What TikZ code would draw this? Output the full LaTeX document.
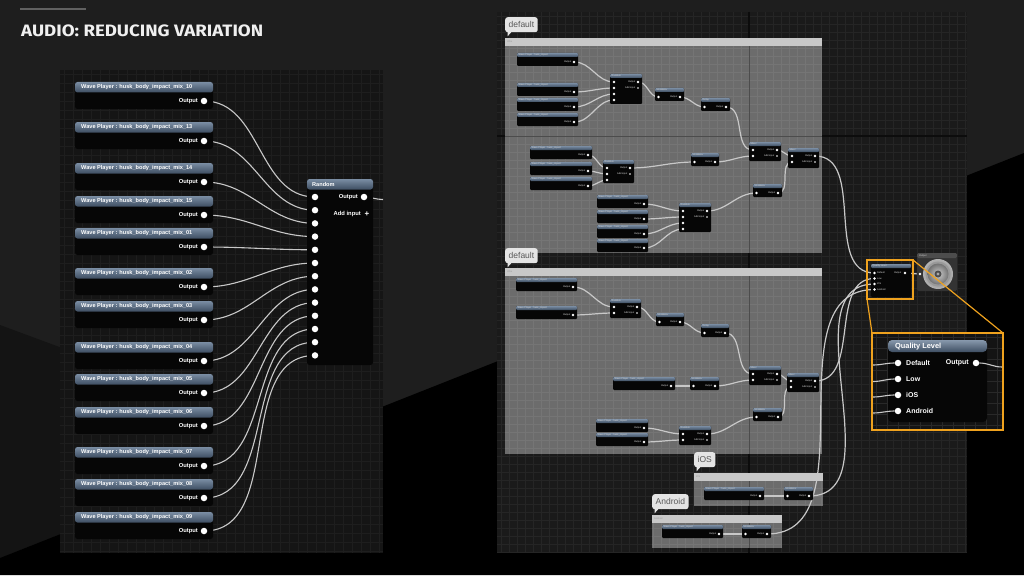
\documentclass[tikz,border=0pt]{standalone}
\usepackage{fontspec}
\setmainfont{Liberation Sans}
\newfontfamily\titlefont{Fira Sans}
\usetikzlibrary{calc}
\pgfdeclarelayer{back}
\pgfdeclarelayer{wirel}
\pgfsetlayers{back,wirel,main}
\definecolor{bgA}{HTML}{1E1E1E}
\definecolor{bgB}{HTML}{141414}
\definecolor{panelL}{HTML}{151515}
\definecolor{gridL}{HTML}{1E1E1E}
\definecolor{panelR}{HTML}{1A1A1A}
\definecolor{gridR}{HTML}{252525}
\definecolor{majorR}{HTML}{0C0C0C}
\definecolor{cbox}{HTML}{6C6C6C}
\definecolor{cgrid}{HTML}{757575}
\definecolor{cmajor}{HTML}{4C4C4C}
\definecolor{chead}{HTML}{C8C8C8}
\definecolor{hdA}{HTML}{7A8DA3}
\definecolor{hdB}{HTML}{3E4E62}
\definecolor{wirec}{HTML}{C8C8C8}
\definecolor{orng}{HTML}{EFA21E}
\definecolor{tagc}{HTML}{E4E4E4}
\definecolor{nbody}{HTML}{060606}
\tikzset{
  wire/.style={draw=wirec, line width=1.1pt},
  swire/.style={draw=wirec, line width=1.2pt},
  pinB/.style={circle, fill=white, inner sep=0pt, minimum size=6.5pt},
  pinS/.style={circle, fill=white, inner sep=0pt, minimum size=2.6pt},
  wptxt/.style={font=\fontsize{5.6}{6}\selectfont\bfseries, text=white, inner sep=0pt},
  outtxt/.style={font=\fontsize{5.8}{6}\selectfont\bfseries, text=white, inner sep=0pt},
  tinytxt/.style={font=\fontsize{2.4}{2.6}\selectfont, text=white!85!black, inner sep=0pt},
  tagbox/.style={fill=tagc, rounded corners=2.5pt, text=black!65, font=\fontsize{8.5}{9}\selectfont, inner xsep=3.5pt, inner ysep=0pt, minimum height=15pt},
  qltxt/.style={font=\fontsize{7}{8}\selectfont\bfseries, text=white, inner sep=0pt},
}
% big wave player (left panel)
\newcommand\BigWP[3]{%
  \fill[nbody, rounded corners=2.5pt] (75,#2) rectangle (213,#2+27);
  \shade[top color=hdA, bottom color=hdB, rounded corners=2.5pt] (75,#2) rectangle (213,#2+10.5);
  \node[wptxt, anchor=west] at (81,#2+5.5) {Wave Player : husk\_body\_impact\_mix\_#3};
  \node[outtxt, anchor=east] at (198,#2+19) {Output};
  \node[pinB] (#1) at (204,#2+19) {};
}
% small node body
\newcommand\SBody[5]{%
  \fill[nbody, rounded corners=1pt] (#1,#2) rectangle ({#1+#3},{#2+#4});
  \shade[top color=hdA, bottom color=hdB, rounded corners=1pt] (#1,#2) rectangle ({#1+#3},{#2+4});
  \node[tinytxt, anchor=west] at ({#1+1.5},{#2+2}) {#5};
}
\newcommand\SWP[4]{%
  \SBody{#2}{#3}{#4}{13}{Wave Player : husk\_impact}
  \node[tinytxt, anchor=east] at ({#2+#4-6.5},{#3+9}) {Output};
  \node[pinS] (#1) at ({#2+#4-4},{#3+9}) {};
}
\newcommand\SMod[5]{%
  \SBody{#2}{#3}{#4}{13}{#5}
  \node[pinS] (#1-i) at ({#2+3.5},{#3+9}) {};
  \node[tinytxt, anchor=east] at ({#2+#4-6.5},{#3+9}) {Output};
  \node[pinS] (#1-o) at ({#2+#4-4},{#3+9}) {};
}
\newcommand\SMix[7]{%
  \SBody{#2}{#3}{#4}{#5}{#6}
  \foreach \o [count=\k] in {#7} \node[pinS] (#1-i\k) at ({#2+4},{#3+\o}) {};
  \node[tinytxt, anchor=east] at ({#2+#4-6.5},{#3+8}) {Output};
  \node[pinS] (#1-o) at ({#2+#4-4},{#3+8}) {};
  \node[tinytxt, anchor=east] at ({#2+#4-6.5},{#3+14}) {Add input};
  \node[pinS, minimum size=1.8pt] (#1-add) at ({#2+#4-4},{#3+14}) {};
}
\newcommand\CBox[5]{%
  \fill[cbox] (#1,#2) rectangle (#3,#4);
  \begin{scope}
    \clip (#1,#2) rectangle (#3,#4);
    \foreach \x in {501,509,...,965} \draw[cgrid, line width=0.4pt] (\x,#2) -- (\x,#4);
    \foreach \y in {16,24,...,552} \draw[cgrid, line width=0.4pt] (#1,\y) -- (#3,\y);
    \draw[cmajor, line width=1pt] (749,#2) -- (749,#4);
    \draw[cmajor, line width=1pt] (#1,136) -- (#3,136);
  \end{scope}
  \fill[chead] (#1,#2) rectangle (#3,{#2+8});
  \node[tinytxt, text=black!40, anchor=west] at ({#1+2},{#2+4}) {#5};
}
\newcommand\Tag[4]{%
  \node[tagbox, anchor=north west] (#1) at (#2,#3) {#4};
  \fill[tagc] ($(#1.south west)+(2.5,-0.5)$) -- ++(0,4.5) -- ++(4,-4.5) -- cycle;
}
\newcommand\wire[3][]{\draw[wire,#1] (#2.center) to[out=0,in=180] (#3.center);}
\newcommand\swire[3][]{\draw[swire,#1] (#2.center) to[out=0,in=180] (#3.center);}

\begin{document}
\begin{tikzpicture}[x=1pt,y=-1pt]
\useasboundingbox (0,0) rectangle (1024,575);
\begin{pgfonlayer}{back}
  \fill[bgA] (0,0) rectangle (1024,575);
  \fill[bgB] (0,325) -- (304,437.6) -- (0,558) -- cycle;
  \fill[black] (0,558) -- (1024,153) -- (1024,575) -- (0,575) -- cycle;
  \fill[black!62] (20,8) rectangle (86,10);
  % left panel
  \fill[panelL] (60,70) rectangle (383,553);
  \foreach \x in {64,73,...,382} \draw[gridL, line width=0.5pt] (\x,70) -- (\x,553);
  \foreach \y in {74,83,...,552} \draw[gridL, line width=0.5pt] (60,\y) -- (383,\y);
  % right panel
  \fill[panelR] (497,12) rectangle (967,553);
  \foreach \x in {501,509,...,965} \draw[gridR, line width=0.5pt] (\x,12) -- (\x,553);
  \foreach \y in {16,24,...,552} \draw[gridR, line width=0.5pt] (497,\y) -- (967,\y);
  \draw[majorR, line width=1.2pt] (749,12) -- (749,553);
  \draw[majorR, line width=1.2pt] (497,136) -- (967,136);
  % comment boxes
  \CBox{505}{38}{822}{253}{Ultra}
  \CBox{505}{268}{822}{454}{Ultra}
  \CBox{694}{473}{823}{506}{iOS}
  \CBox{652}{515}{782}{548}{Android}
\end{pgfonlayer}

% title
\node[anchor=west, text=white!94!black, font=\titlefont\bfseries\fontsize{16.5}{18}\selectfont, inner sep=0pt] (title) at (21,31) {\scalebox{1.13}[1]{AUDIO: REDUCING VARIATION}};

% ---------------- left panel ----------------
\BigWP{w10}{82}{10}
\BigWP{w13}{122}{13}
\BigWP{w14}{163}{14}
\BigWP{w15}{196}{15}
\BigWP{w01}{228}{01}
\BigWP{w02}{268}{02}
\BigWP{w03}{301}{03}
\BigWP{w04}{342}{04}
\BigWP{w05}{374}{05}
\BigWP{w06}{407}{06}
\BigWP{w07}{447}{07}
\BigWP{w08}{479}{08}
\BigWP{w09}{512}{09}

\fill[nbody, rounded corners=2.5pt] (307,179) rectangle (373,365);
\shade[top color=hdA, bottom color=hdB, rounded corners=2.5pt] (307,179) rectangle (373,189.5);
\node[wptxt, anchor=west] (rtitle) at (312,184.5) {Random};
\foreach \i in {1,...,13} \node[pinB] (r\i) at (315,{197+13.2*(\i-1)}) {};
\node[outtxt, anchor=east] (rout) at (358,197) {Output};
\node[pinB] (ro) at (364,197) {};
\node[outtxt, anchor=east] (radd) at (361,214) {Add input};
\node[text=white, font=\fontsize{8}{8}\selectfont\bfseries, inner sep=0pt] (rplus) at (367,214) {+};
\coordinate (rstub) at (383,199.5);

\begin{pgfonlayer}{wirel}
  \wire{w10}{r1}
  \wire{w13}{r2}
  \wire{w14}{r3}
  \wire{w15}{r4}
  \wire{w01}{r5}
  \wire{w02}{r6}
  \wire{w03}{r7}
  \wire{w04}{r8}
  \wire{w05}{r9}
  \wire{w06}{r10}
  \wire{w07}{r11}
  \wire{w08}{r12}
  \wire{w09}{r13}
  \draw[wire] (ro.center) to[out=0,in=180] (rstub);
\end{pgfonlayer}

% ---------------- right panel: comment 1 ----------------
\Tag{t1}{505}{17}{default}
\SWP{A1}{517}{53}{61}
\SWP{A2}{517}{83}{61}
\SWP{A3}{517}{98}{61}
\SWP{A4}{517}{113}{61}
\SMix{M1}{610}{74}{32}{30}{Random}{8,14,20,26}
\SMod{B1}{655}{88}{29}{Modulator}
\SMod{C1}{701}{98}{29}{Delay}
\SWP{D1}{530}{146}{62}
\SWP{D2}{530}{162}{62}
\SWP{D3}{530}{177}{62}
\SMix{M2}{603}{160}{31}{23}{Random}{8,14,20}
\SMod{B2}{691}{153}{28}{Modulator}
\SMix{E1}{749}{142}{32}{19}{Mixer}{8,14}
\SMix{E2}{788}{148}{31}{20}{Mixer}{8,14}
\SWP{F1}{597}{195}{51}
\SWP{F2}{597}{210}{51}
\SWP{F3}{597}{225}{51}
\SWP{F4}{597}{239}{51}
\SMix{M3}{679}{203}{32}{29}{Random}{8,14,20,26}
\SMod{B3}{753}{184}{29}{Modulator}

% comment 2
\Tag{t2}{505}{248}{default}
\SWP{G1}{516}{278}{61}
\SWP{G2}{516}{306}{61}
\SMix{N1}{610}{299}{31}{19}{Random}{8,14}
\SMod{H1}{656}{313}{28}{Modulator}
\SMod{K1}{701}{324}{28}{Delay}
\SWP{J1}{613}{377}{62}
\SMod{H2}{690}{377}{29}{Modulator}
\SMix{P1}{749}{366}{32}{19}{Mixer}{8,14}
\SMix{P2}{787}{373}{32}{19}{Mixer}{8,14}
\SWP{L1}{596}{419}{52}
\SWP{L2}{596}{433}{52}
\SMix{N3}{679}{426}{32}{19}{Random}{8,14}
\SMod{H3}{753}{408}{29}{Modulator}

% comment 3 (iOS)
\Tag{t3}{694}{452}{iOS}
\SWP{S1}{704}{487}{60}
\SMod{S2}{784}{487}{29}{Modulator}
% comment 4 (Android)
\Tag{t4}{652}{494}{Android}
\SWP{U1}{662}{525}{61}
\SMod{U2}{742}{525}{29}{Modulator}

% small quality level node + output
\SBody{871}{264}{40}{33}{Quality Level}
\node[pinS] (q1) at (874.5,273) {};
\node[pinS] (q2) at (874.5,278.5) {};
\node[pinS] (q3) at (874.5,284) {};
\node[pinS] (q4) at (874.5,289.5) {};
\node[tinytxt, anchor=west] at (877,273) {Default};
\node[tinytxt, anchor=west] at (877,278.5) {Low};
\node[tinytxt, anchor=west] at (877,284) {iOS};
\node[tinytxt, anchor=west] at (877,289.5) {Android};
\node[tinytxt, anchor=east] at (901.5,273) {Output};
\node[pinS] (qo) at (905,273) {};
% speaker (sound output)
\fill[black!80!white, rounded corners=1.5pt] (917,253) rectangle (957,291);
\fill[black!70!white, rounded corners=1.5pt] (917,253) rectangle (957,258);
\node[tinytxt, anchor=west] at (919,255.5) {Output};
\node[pinS] (spk) at (920,274) {};
\shade[inner color=black!55, outer color=black!30] (938,274) circle (15);
\fill[black!40] (938,274) circle (12.5);
\shade[inner color=black!20, outer color=black!55] (938,274) circle (10.5);
\fill[black!70] (938,274) circle (3.5);
\fill[black!35] (938,274) circle (1.6);

\begin{pgfonlayer}{wirel}
  \swire{A1}{M1-i1}
  \swire{A2}{M1-i2}
  \swire{A3}{M1-i3}
  \swire{A4}{M1-i4}
  \swire{M1-o}{B1-i}
  \swire{B1-o}{C1-i}
  \swire{C1-o}{E1-i1}
  \swire{D1}{M2-i1}
  \swire{D2}{M2-i2}
  \swire{D3}{M2-i3}
  \swire{M2-o}{B2-i}
  \swire{B2-o}{E1-i2}
  \swire{E1-o}{E2-i1}
  \swire{F1}{M3-i1}
  \swire{F2}{M3-i2}
  \swire{F3}{M3-i3}
  \swire{F4}{M3-i4}
  \swire{M3-o}{B3-i}
  \swire{B3-o}{E2-i2}
  \swire{E2-o}{q1}
  \swire{G1}{N1-i1}
  \swire{G2}{N1-i2}
  \swire{N1-o}{H1-i}
  \swire{H1-o}{K1-i}
  \swire{K1-o}{P1-i1}
  \swire{J1}{H2-i}
  \swire{H2-o}{P1-i2}
  \swire{P1-o}{P2-i1}
  \swire{L1}{N3-i1}
  \swire{L2}{N3-i2}
  \swire{N3-o}{H3-i}
  \swire{H3-o}{P2-i2}
  \swire{P2-o}{q2}
  \swire{S1}{S2-i}
  \swire{S2-o}{q3}
  \swire{U1}{U2-i}
  \swire{U2-o}{q4}
  \swire{qo}{spk}
\end{pgfonlayer}

% zoomed quality level
\fill[black!92!white] (872,333) rectangle (1003,430);
\begin{scope}
  \clip (872,333) rectangle (1003,430);
  \foreach \x in {876,887,...,1002} \draw[black!84!white, line width=0.4pt] (\x,333) -- (\x,430);
  \foreach \y in {337,348,...,429} \draw[black!84!white, line width=0.4pt] (872,\y) -- (1003,\y);
\end{scope}
\coordinate (z1) at (873,365);
\coordinate (z2) at (873,381.5);
\coordinate (z3) at (873,397);
\coordinate (z4) at (873,413);
\coordinate (zo) at (1002,367);
\fill[nbody, rounded corners=4pt] (888,340) rectangle (987,422);
\shade[top color=hdA!90!white, bottom color=hdB, rounded corners=4pt] (888,340) rectangle (987,352);
\node[qltxt, anchor=west, font=\fontsize{7.4}{8}\selectfont\bfseries] (qlt) at (895,346.5) {Quality Level};
\node[pinB] (Q1) at (898,363) {};
\node[pinB] (Q2) at (898,379) {};
\node[pinB] (Q3) at (898,395) {};
\node[pinB] (Q4) at (898,411) {};
\node[qltxt, anchor=west] at (906,363) {Default};
\node[qltxt, anchor=west] at (906,379) {Low};
\node[qltxt, anchor=west] at (906,395) {iOS};
\node[qltxt, anchor=west] at (906,411) {Android};
\node[qltxt, anchor=east] at (969,363) {Output};
\node[pinB] (QO) at (976,363) {};
\draw[wire] (z1) to[out=0,in=180] (Q1.west);
\draw[wire] (z2) to[out=0,in=180] (Q2.west);
\draw[wire] (z3) to[out=0,in=180] (Q3.west);
\draw[wire] (z4) to[out=0,in=180] (Q4.west);
\draw[wire] (QO.east) to[out=0,in=180] (zo);
% orange highlight
\draw[orng, line width=1.4pt] (867,260) rectangle (913,299);
\draw[orng, line width=1.4pt] (872,333) rectangle (1003,430);
\draw[orng, line width=1.2pt] (867,299) -- (872,333);
\draw[orng, line width=1.2pt] (913,260) -- (1003,333);
\end{tikzpicture}
\end{document}
